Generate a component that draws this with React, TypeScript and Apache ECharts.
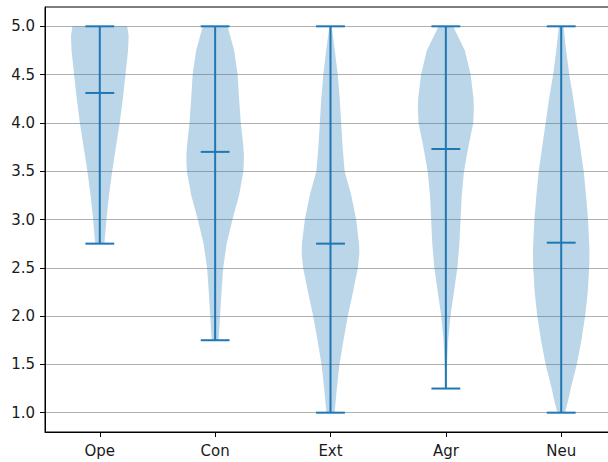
import React, { useEffect, useRef } from "react";
import * as echarts from "echarts";

const categories = ["Ope", "Con", "Ext", "Agr", "Neu"];
const minValues = [2.75, 1.75, 1.0, 1.25, 1.0];
const maxValues = [5.0, 5.0, 5.0, 5.0, 5.0];
const meanValues = [4.31, 3.7, 2.75, 3.73, 2.76];
const yTicks = [1.0, 1.5, 2.0, 2.5, 3.0, 3.5, 4.0, 4.5, 5.0];

// density profile: value level -> relative half-width (max = 1)
const opeLevels = [2.75, 3.0, 3.25, 3.5, 3.75, 4.0, 4.25, 4.5, 4.75, 4.9, 5.0];
const opeWidths = [0.16, 0.23, 0.32, 0.43, 0.56, 0.69, 0.8, 0.89, 0.98, 1.0, 0.95];
const conLevels = [1.75, 2.0, 2.25, 2.5, 2.75, 3.0, 3.25, 3.5, 3.65, 3.75, 4.0, 4.25, 4.5, 4.75, 5.0];
const conWidths = [0.12, 0.17, 0.22, 0.28, 0.4, 0.6, 0.83, 0.98, 1.0, 0.98, 0.89, 0.83, 0.78, 0.66, 0.43];
const extLevels = [1.0, 1.25, 1.5, 1.75, 2.0, 2.25, 2.5, 2.65, 2.75, 3.0, 3.25, 3.5, 3.75, 4.0, 4.25, 4.5, 4.75, 5.0];
const extWidths = [0.14, 0.22, 0.31, 0.45, 0.6, 0.78, 0.95, 1.0, 0.99, 0.89, 0.72, 0.49, 0.42, 0.37, 0.32, 0.25, 0.15, 0.04];
const agrLevels = [1.25, 1.5, 1.75, 2.0, 2.25, 2.5, 2.75, 3.0, 3.25, 3.5, 3.75, 4.0, 4.15, 4.25, 4.5, 4.75, 5.0];
const agrWidths = [0.02, 0.04, 0.08, 0.16, 0.28, 0.4, 0.47, 0.51, 0.55, 0.63, 0.78, 0.95, 0.97, 0.96, 0.86, 0.66, 0.25];
const neuLevels = [1.0, 1.15, 1.25, 1.5, 1.75, 2.0, 2.25, 2.5, 2.65, 2.75, 3.0, 3.25, 3.5, 3.75, 4.0, 4.25, 4.5, 4.75, 5.0];
const neuWidths = [0.13, 0.26, 0.33, 0.54, 0.7, 0.83, 0.92, 0.97, 0.98, 0.97, 0.93, 0.86, 0.78, 0.66, 0.54, 0.42, 0.28, 0.17, 0.08];

const profileLevels = [opeLevels, conLevels, extLevels, agrLevels, neuLevels];
const profileWidths = [opeWidths, conWidths, extWidths, agrWidths, neuWidths];

const HALF_WIDTH = 0.25; // violin width 0.5 in position units
const CAP_HALF = 0.125;
const LINE_COLOR = "#1f77b4";
const FILL_COLOR = "rgba(31,119,180,0.3)";
const FONT = "DejaVu Sans";

export default function App() {
  const ref = useRef<HTMLDivElement>(null);

  useEffect(() => {
    document.body.style.margin = "0";
    if (!ref.current) return;
    const chart = echarts.init(ref.current, null, { renderer: "svg" });

    const data = categories.map((_, i) => [i + 1, minValues[i], maxValues[i], meanValues[i]]);

    const renderItem = (params: any, api: any) => {
      const i = params.dataIndex;
      const pos = api.value(0);
      const lo = api.value(1);
      const hi = api.value(2);
      const mean = api.value(3);
      const levels = profileLevels[i];
      const widths = profileWidths[i];
      const right = levels.map((v: number, k: number) => api.coord([pos + widths[k] * HALF_WIDTH, v]));
      const left = levels.map((v: number, k: number) => api.coord([pos - widths[k] * HALF_WIDTH, v])).reverse();
      const points = right.concat(left);
      const lineStyle = { stroke: LINE_COLOR, lineWidth: 2, fill: "none" };
      const hLine = (v: number) => {
        const a = api.coord([pos - CAP_HALF, v]);
        const b = api.coord([pos + CAP_HALF, v]);
        return { type: "line", shape: { x1: a[0], y1: a[1], x2: b[0], y2: b[1] }, style: lineStyle };
      };
      const top = api.coord([pos, hi]);
      const bot = api.coord([pos, lo]);
      return {
        type: "group",
        children: [
          { type: "polygon", shape: { points }, style: { fill: FILL_COLOR, stroke: "none" } },
          { type: "line", shape: { x1: top[0], y1: top[1], x2: bot[0], y2: bot[1] }, style: lineStyle },
          hLine(hi),
          hLine(lo),
          hLine(mean),
        ],
      };
    };

    chart.setOption({
      animation: false,
      grid: {
        left: 45,
        top: 7,
        width: 571,
        height: 425,
        outerBoundsMode: "none",
        containLabel: false,
        show: true,
        borderColor: "#000",
        borderWidth: 1,
        backgroundColor: "transparent",
      },
      xAxis: {
        type: "value",
        min: 0.525,
        max: 5.475,
        splitLine: { show: false },
        axisLine: { show: true, lineStyle: { color: "#000", width: 1 } },
        axisTick: { show: true, length: 5, customValues: [1, 2, 3, 4, 5], lineStyle: { color: "#000" } },
        axisLabel: {
          customValues: [1, 2, 3, 4, 5],
          formatter: (v: number) => categories[Math.round(v) - 1] ?? "",
          color: "#1a1a1a",
          fontFamily: FONT,
          fontSize: 15,
          margin: 11,
        },
      },
      yAxis: {
        type: "value",
        min: 0.8,
        max: 5.2,
        axisLine: { show: true, lineStyle: { color: "#000", width: 1 } },
        axisTick: { show: true, length: 5, customValues: yTicks, lineStyle: { color: "#000" } },
        axisLabel: {
          customValues: yTicks,
          formatter: (v: number) => v.toFixed(1),
          color: "#1a1a1a",
          fontFamily: FONT,
          fontSize: 15,
          margin: 10,
        },
        splitLine: { show: true, lineStyle: { color: "#b0b0b0", width: 1 } },
      },
      series: [
        {
          type: "custom",
          renderItem,
          data,
          encode: { x: 0, y: [1, 2] },
          silent: true,
        },
      ],
    });

    return () => chart.dispose();
  }, []);

  return <div ref={ref} style={{ width: 608, height: 462 }} />;
}
